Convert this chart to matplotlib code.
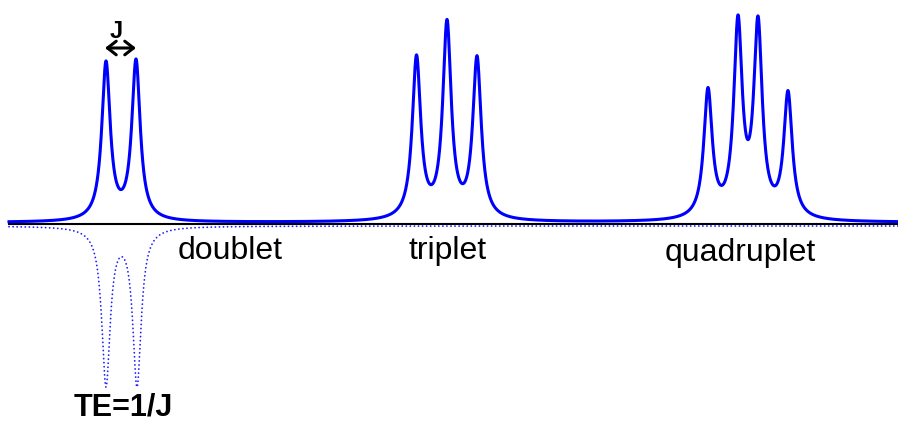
import numpy as np
import matplotlib
matplotlib.use("Agg")
import matplotlib.pyplot as plt
from matplotlib.transforms import offset_copy

# ---- data (peak positions / amplitudes of the simulated multiplets) ----
doublet_pos = [106, 136]
doublet_amp = [157, 159]
triplet_pos = [416.5, 447, 477]
triplet_amp = [161, 194, 160]
quad_pos = [708, 738, 758, 788]
quad_amp = [127, 191, 190, 124]
echo_pos = [106, 137]          # dotted, inverted doublet (TE = 1/J)
echo_amp = [-157, -157]
hwhm = 5.1                     # Lorentzian half width
window = (9, 898)              # spectral window
labels = ["doublet", "triplet", "quadruplet"]
label_x = [230.5, 448, 740.5]
label_y = [-36.5, -36.5, -38]


def lorentz(x, pos, amp, g):
    y = np.zeros_like(x)
    for p, a in zip(pos, amp):
        y += a / (1.0 + ((x - p) / g) ** 2)
    return y


x = np.linspace(window[0], window[1], 6000)
spec = (lorentz(x, doublet_pos, doublet_amp, hwhm)
        + lorentz(x, triplet_pos, triplet_amp, hwhm)
        + lorentz(x, quad_pos, quad_amp, hwhm))
echo = lorentz(x, echo_pos, echo_amp, hwhm)

plt.rcParams["font.family"] = ["Liberation Sans", "DejaVu Sans"]
fig = plt.figure(figsize=(8.98, 4.21), dpi=100)
ax = fig.add_axes([0, 0, 1, 1])
ax.set_xlim(0, 898)
ax.set_ylim(222.5 - 421, 222.5)
ax.axis("off")

# black baseline slightly below the blue trace
ax.plot(window, [0, 0], color="black", lw=1.5,
        transform=offset_copy(ax.transData, fig, y=-1.5, units="dots"), zorder=2)
# blue spectrum
ax.plot(x, spec, color="#0000ff", lw=2.2, zorder=3, solid_joinstyle="round")
# dotted inverted doublet
ax.plot(x, echo, color="#2020ff", lw=1.3, linestyle=(0, (0.05, 2.2)),
        dash_capstyle="round",
        transform=offset_copy(ax.transData, fig, y=-3.5, units="dots"), zorder=1)

for t, lx, ly in zip(labels, label_x, label_y):
    ax.text(lx, ly, t, fontsize=23, ha="center", va="baseline", color="black")

ax.text(123.5, -192.5, "TE=1/J", fontsize=22, fontweight="bold",
        ha="center", va="baseline", color="black")
ax.text(116, 184.5, "J", fontsize=17, fontweight="bold",
        ha="center", va="baseline", color="black")
ax.annotate("", xy=(105, 174.5), xytext=(136, 174.5),
            arrowprops=dict(arrowstyle="<->,head_length=0.45,head_width=0.35",
                            lw=2.2, color="black", mutation_scale=14,
                            shrinkA=0, shrinkB=0))

fig.savefig("out.png", dpi=100)
